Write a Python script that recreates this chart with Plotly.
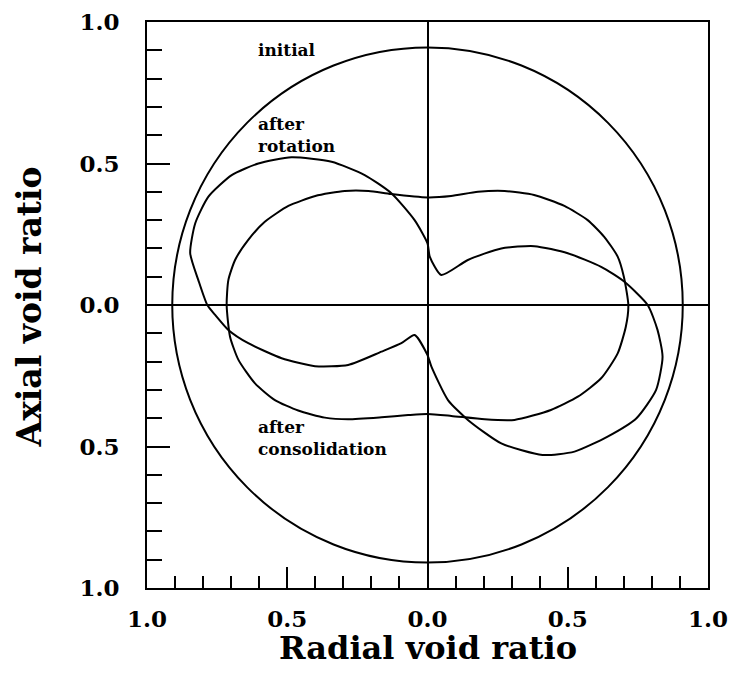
import plotly.graph_objects as go

# ---- data ----
initial_radius = 0.91

rotation_x = [0.049, 0.144, 0.263, 0.381, 0.500, 0.619, 0.702, 0.785, 0.820, 0.838, 0.815, 0.745,
              0.642, 0.524, 0.410, 0.263, 0.144, 0.073, 0.014, 0.000, -0.046, -0.093, -0.164,
              -0.283, -0.401, -0.520, -0.639, -0.710, -0.757, -0.785, -0.817, -0.846, -0.828,
              -0.781, -0.698, -0.603, -0.485, -0.342, -0.224, -0.129, -0.046, 0.000, 0.008, 0.049]
rotation_y = [0.106, 0.159, 0.200, 0.208, 0.183, 0.135, 0.082, 0.000, -0.088, -0.183, -0.300, -0.400,
              -0.465, -0.518, -0.530, -0.489, -0.406, -0.336, -0.218, -0.177, -0.106, -0.135, -0.165,
              -0.212, -0.216, -0.188, -0.135, -0.088, -0.035, 0.000, 0.088, 0.183, 0.289,
              0.383, 0.459, 0.500, 0.522, 0.506, 0.459, 0.395, 0.300, 0.218, 0.171, 0.106]

consol_x = [0.000, 0.084, 0.180, 0.275, 0.380, 0.488, 0.571, 0.630, 0.678, 0.700, 0.716, 0.707,
            0.678, 0.619, 0.536, 0.440, 0.310, 0.204, 0.085, 0.000, -0.069, -0.164, -0.283,
            -0.366, -0.461, -0.544, -0.615, -0.674, -0.704, -0.716, -0.710, -0.686, -0.639,
            -0.580, -0.496, -0.400, -0.295, -0.210, -0.130, 0.000]
consol_y = [0.380, 0.385, 0.400, 0.403, 0.389, 0.350, 0.300, 0.241, 0.171, 0.100, 0.000, -0.077,
            -0.171, -0.259, -0.324, -0.371, -0.406, -0.404, -0.392, -0.385, -0.389, -0.397, -0.404,
            -0.398, -0.373, -0.336, -0.277, -0.194, -0.112, 0.000, 0.088, 0.159, 0.230,
            0.294, 0.350, 0.385, 0.403, 0.403, 0.392, 0.380]

tick_vals = [-1.0, -0.5, 0.0, 0.5, 1.0]
tick_text = ["1.0", "0.5", "0.0", "0.5", "1.0"]

curve_labels = [
    ("initial", -0.61, 0.901),
    ("after<br>rotation", -0.61, 0.601),
    ("after<br>consolidation", -0.61, -0.470),
]

SERIF = "DejaVu Serif"

fig = go.Figure()
fig.add_trace(go.Scatter(x=rotation_x, y=rotation_y, mode="lines",
                         line=dict(color="black", width=2, shape="spline", smoothing=0.6),
                         hoverinfo="skip", showlegend=False))
fig.add_trace(go.Scatter(x=consol_x, y=consol_y, mode="lines",
                         line=dict(color="black", width=2, shape="spline", smoothing=0.6),
                         hoverinfo="skip", showlegend=False))

fig.add_shape(type="circle", xref="x", yref="y",
              x0=-initial_radius, x1=initial_radius, y0=-initial_radius, y1=initial_radius,
              line=dict(color="black", width=2))

for txt, lx, ly in curve_labels:
    fig.add_annotation(x=lx, y=ly, xref="x", yref="y", text=txt, showarrow=False,
                       xanchor="left", yanchor="middle", align="left",
                       font=dict(family=SERIF, size=17, color="black", weight="bold"))

axis_common = dict(
    range=[-1, 1], tickmode="array", tickvals=tick_vals, ticktext=tick_text,
    showgrid=False, showline=True, mirror=True, linecolor="black", linewidth=2,
    zeroline=True, zerolinecolor="black", zerolinewidth=2,
    ticks="inside", tickcolor="black", tickwidth=2,
    tickfont=dict(family=SERIF, size=23, color="black", weight="bold"),
    minor=dict(ticks="inside", tickmode="linear", tick0=0, dtick=0.1,
               tickcolor="black", tickwidth=2, showgrid=False),
    fixedrange=True, automargin=False,
)

fig.update_xaxes(**axis_common, ticklen=21, ticklabelstandoff=9)
fig.update_xaxes(minor_ticklen=12)
fig.update_yaxes(**axis_common, ticklen=23, ticklabelstandoff=21)
fig.update_yaxes(minor_ticklen=15)

fig.add_annotation(x=0.5, y=-0.106, xref="paper", yref="paper", text="Radial void ratio",
                   showarrow=False, xanchor="center", yanchor="middle",
                   font=dict(family=SERIF, size=32, color="black", weight="bold"))
fig.add_annotation(x=-0.209, y=0.497, xref="paper", yref="paper", text="Axial void ratio",
                   showarrow=False, xanchor="center", yanchor="middle", textangle=-90,
                   font=dict(family=SERIF, size=33, color="black", weight="bold"))

fig.update_layout(
    width=729, height=673,
    margin=dict(l=147, r=21, t=22, b=85),
    paper_bgcolor="white", plot_bgcolor="white",
    showlegend=False,
)

fig.write_html("out.html")
